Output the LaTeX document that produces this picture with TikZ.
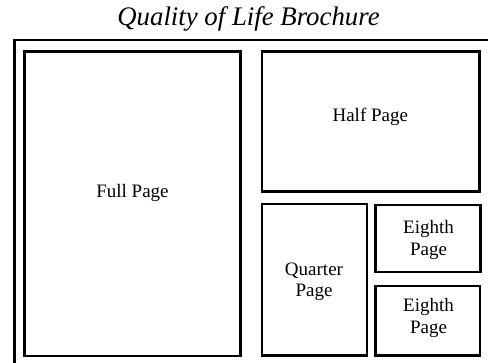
\documentclass[tikz,border=0pt]{standalone}
\usepackage{fontspec}
\setmainfont{Liberation Serif}
\begin{document}
\begin{tikzpicture}[x=1pt,y=-1pt,
  pagebox/.style={draw=black,line width=2.2pt},
  lbl/.style={font=\fontsize{19}{21.5}\selectfont,align=center,inner sep=0pt}]
\useasboundingbox (0,0) rectangle (488,363);
\clip (0,0) rectangle (488,363);
\node[font=\itshape\fontsize{26.8}{30}\selectfont,inner sep=0pt] (title) at (248.5,18.5) {Quality of Life Brochure};
\draw[line width=2.2pt] (14.5,380) -- (14.5,40) -- (500,40);
\draw[pagebox] (24.5,51.5) rectangle (240.5,356);
\draw[pagebox] (262,51.5) rectangle (479.5,191.5);
\draw[pagebox] (262,204) rectangle (367,355.5);
\draw[pagebox] (375.5,205) rectangle (480.5,272);
\draw[pagebox] (375.5,286) rectangle (480,355.5);
\node[lbl] (full) at (132.5,193) {Full Page};
\node[lbl] (half) at (370.3,116.5) {Half Page};
\node[lbl] (quarter) at (314,282) {Quarter\\Page};
\node[lbl] (eighthA) at (428.5,240) {Eighth\\Page};
\node[lbl] (eighthB) at (428.5,318) {Eighth\\Page};
\end{tikzpicture}
\end{document}
